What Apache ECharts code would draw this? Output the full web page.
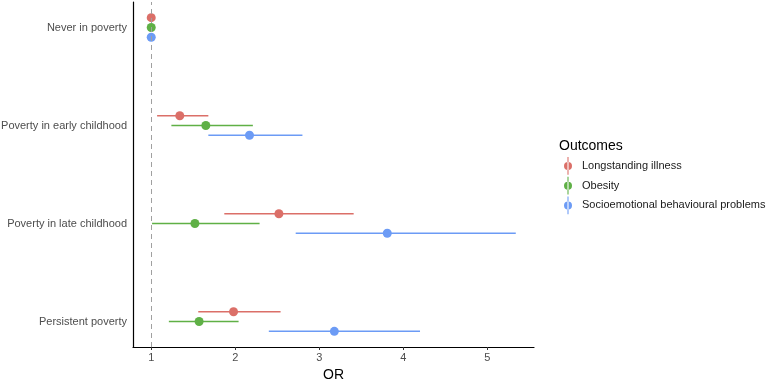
<!DOCTYPE html>
<html>
<head>
<meta charset="utf-8">
<script src="https://cdn.jsdelivr.net/npm/echarts@6/dist/echarts.min.js"></script>
<style>
  html, body { margin: 0; padding: 0; background: #fff; }
  #chart { width: 767px; height: 380px; }
</style>
</head>
<body>
<div id="chart"></div>
<script>
// categories, top to bottom
const categories = ['Never in poverty', 'Poverty in early childhood', 'Poverty in late childhood', 'Persistent poverty'];
const outcomes = ['Longstanding illness', 'Obesity', 'Socioemotional behavioural problems'];

// odds ratios and confidence limits, same order as categories
const illnessOR = [1, 1.34, 2.52, 1.98];
const illnessLow = [1, 1.07, 1.87, 1.56];
const illnessHigh = [1, 1.68, 3.41, 2.54];

const obesityOR = [1, 1.65, 1.52, 1.57];
const obesityLow = [1, 1.24, 1.01, 1.21];
const obesityHigh = [1, 2.21, 2.29, 2.04];

const socioOR = [1, 2.17, 3.81, 3.18];
const socioLow = [1, 1.68, 2.72, 2.40];
const socioHigh = [1, 2.80, 5.34, 4.20];

const xTicks = [1, 2, 3, 4, 5];

const colors = ['#DB6F68', '#5FB046', '#6C9BF5'];
const dodge = [0.1, 0, -0.1];

const chart = echarts.init(document.getElementById('chart'));

const est = [illnessOR, obesityOR, socioOR];
const low = [illnessLow, obesityLow, socioLow];
const high = [illnessHigh, obesityHigh, socioHigh];

// y position of a category (top = 4)
const yPos = (i, j) => categories.length - i + dodge[j];

const series = [];
outcomes.forEach((name, j) => {
    series.push({
        name: name,
        type: 'custom',
        color: colors[j],
        data: categories.map((c, i) => [low[j][i], high[j][i], yPos(i, j)]),
        encode: { x: [0, 1], y: 2 },
        renderItem: (params, api) => {
            const a = api.coord([api.value(0), api.value(2)]);
            const b = api.coord([api.value(1), api.value(2)]);
            return {
                type: 'line',
                shape: { x1: a[0], y1: a[1], x2: b[0], y2: b[1] },
                style: { stroke: colors[j], lineWidth: 1.4 }
            };
        },
        z: 2
    });
});
outcomes.forEach((name, j) => {
    series.push({
        name: name,
        type: 'scatter',
        color: colors[j],
        symbolSize: 9,
        itemStyle: { opacity: 1 },
        data: categories.map((c, i) => [est[j][i], yPos(i, j)]),
        z: 3
    });
});

// dashed reference line at OR = 1
series[0].markLine = {
    silent: true,
    symbol: 'none',
    label: { show: false },
    lineStyle: { color: '#a0a0a0', type: [5, 4], width: 1 },
    data: [{ xAxis: 1 }]
};

const option = {
    animation: false,
    textStyle: { fontFamily: 'Liberation Sans' },
    grid: { left: 133, right: 233, top: 2, bottom: 33, outerBoundsMode: 'none', containLabel: false },
    title: {
        text: 'Outcomes',
        left: 554,
        top: 134,
        textStyle: { fontSize: 14, fontWeight: 'normal', color: '#000' }
    },
    legend: {
        data: outcomes,
        orient: 'vertical',
        left: 559,
        top: 152,
        itemWidth: 8,
        itemHeight: 20,
        itemGap: 2,
        icon: 'path://M4.4,0h1.2v20h-1.2Z M0.5,10a4.5,4.5 0 1 0 9,0a4.5,4.5 0 1 0 -9,0Z',
        textStyle: { fontSize: 11, color: '#1a1a1a', padding: [0, 0, 0, 5] }
    },
    xAxis: {
        type: 'value',
        min: 0.783,
        max: 5.557,
        name: 'OR',
        nameLocation: 'middle',
        nameGap: 19,
        nameTextStyle: { fontSize: 14, color: '#000' },
        axisLine: { show: true, lineStyle: { color: '#000', width: 1.2 } },
        axisTick: { show: true, length: 3, customValues: xTicks, lineStyle: { color: '#333' } },
        axisLabel: { customValues: xTicks, fontSize: 11, color: '#4d4d4d', margin: 5 },
        splitLine: { show: false }
    },
    yAxis: {
        type: 'value',
        min: 0.74,
        max: 4.26,
        axisLine: { show: true, lineStyle: { color: '#000', width: 1.2 } },
        axisTick: { show: false },
        axisLabel: {
            customValues: [1, 2, 3, 4],
            fontSize: 11,
            color: '#4d4d4d',
            margin: 6,
            formatter: v => categories[categories.length - Math.round(v)]
        },
        splitLine: { show: false }
    },
    series: series
};

chart.setOption(option);
</script>
</body>
</html>
